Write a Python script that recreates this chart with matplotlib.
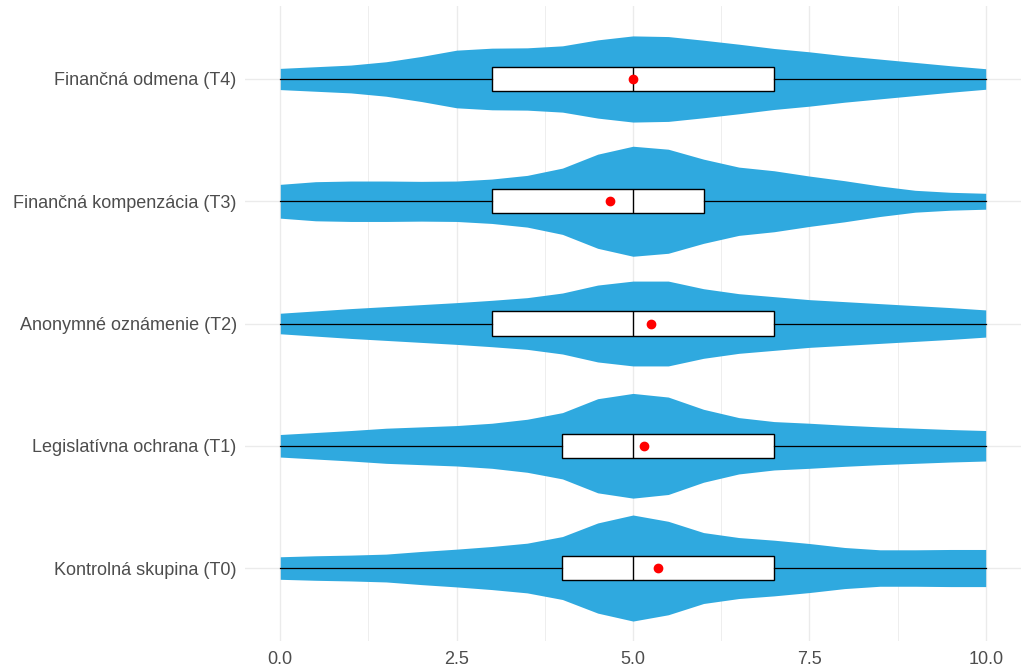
import numpy as np
import matplotlib
matplotlib.use("Agg")
import matplotlib.pyplot as plt

# DATA
groups = ["Kontrolná skupina (T0)", "Legislatívna ochrana (T1)",
          "Anonymné oznámenie (T2)", "Finančná kompenzácia (T3)",
          "Finančná odmena (T4)"]

# violin density (arbitrary units) read at x = 0, 0.5, ..., 10
dens_x = [0, 0.5, 1, 1.5, 2, 2.5, 3, 3.5, 4, 4.5, 5,
          5.5, 6, 6.5, 7, 7.5, 8, 8.5, 9, 9.5, 10]
dens_t0 = [34, 37, 39, 42, 50, 57, 65, 75, 95, 136, 160,
           141, 107, 92, 84, 74, 62, 55, 55, 56, 56]
dens_t1 = [34, 40, 46, 53, 57, 61, 68, 80, 100, 142, 158,
           147, 110, 85, 73, 68, 62, 57, 53, 49, 46]
dens_t2 = [31, 38, 45, 51, 57, 63, 70, 78, 92, 116, 128,
           128, 105, 90, 81, 72, 66, 60, 54, 48, 41]
dens_t3 = [51, 59, 61, 61, 60, 61, 67, 78, 100, 142, 166,
           157, 127, 103, 92, 76, 62, 46, 33, 27, 24]
dens_t4 = [32, 37, 42, 52, 68, 87, 93, 94, 100, 118, 130,
           128, 117, 105, 92, 82, 70, 60, 50, 40, 31]

q1 = [4, 4, 3, 3, 3]
median = [5, 5, 5, 5, 5]
q3 = [7, 7, 7, 6, 7]
minimum = [0, 0, 0, 0, 0]
maximum = [10, 10, 10, 10, 10]
means = [5.36, 5.16, 5.26, 4.68, 5.0]

x_ticks = [0, 2.5, 5, 7.5, 10]
x_ticklabels = ["0.0", "2.5", "5.0", "7.5", "10.0"]

# STYLE
violin_color = "#2FA9DF"
grid_color = "#EBEBEB"
text_color = "#4D4D4D"
half_max = 0.45

plt.rcParams['font.family'] = ['Liberation Sans', 'DejaVu Sans']

fig = plt.figure(figsize=(10.26, 6.7), dpi=100)
ax = fig.add_axes([0.2388, 0.0427, 0.7563, 0.9489])

all_dens = [dens_t0, dens_t1, dens_t2, dens_t3, dens_t4]
dmax = max(max(d) for d in all_dens)
positions = np.arange(1, len(groups) + 1)

for pos, d in zip(positions, all_dens):
    half = np.array(d) / dmax * half_max
    ax.fill_between(dens_x, pos - half, pos + half, color=violin_color,
                    linewidth=0, zorder=2)

stats = []
for i in range(len(groups)):
    stats.append(dict(med=median[i], q1=q1[i], q3=q3[i],
                      whislo=minimum[i], whishi=maximum[i], mean=means[i]))

ax.bxp(stats, positions=positions, vert=False, widths=0.2,
       patch_artist=True, showmeans=True, showcaps=False, showfliers=False,
       boxprops=dict(facecolor="white", edgecolor="black", linewidth=1.0),
       medianprops=dict(color="black", linewidth=1.0),
       whiskerprops=dict(color="black", linewidth=0.9),
       meanprops=dict(marker="o", markerfacecolor="red",
                      markeredgecolor="red", markersize=6),
       zorder=3)

ax.set_xlim(-0.5, 10.5)
ax.set_ylim(0.4, 5.6)
ax.set_xticks(x_ticks)
ax.set_xticklabels(x_ticklabels)
ax.set_xticks([1.25, 3.75, 6.25, 8.75], minor=True)
ax.set_yticks(positions)
ax.set_yticklabels(groups)

ax.grid(True, which="major", color=grid_color, linewidth=1.0, zorder=0)
ax.grid(True, which="minor", axis="x", color=grid_color, linewidth=0.6, zorder=0)
ax.set_axisbelow(True)
for s in ax.spines.values():
    s.set_visible(False)
ax.tick_params(axis="both", which="both", length=0, labelsize=13,
               colors=text_color)
ax.tick_params(axis="y", pad=6)
ax.tick_params(axis="x", pad=7)

fig.savefig("out.png", dpi=100)
